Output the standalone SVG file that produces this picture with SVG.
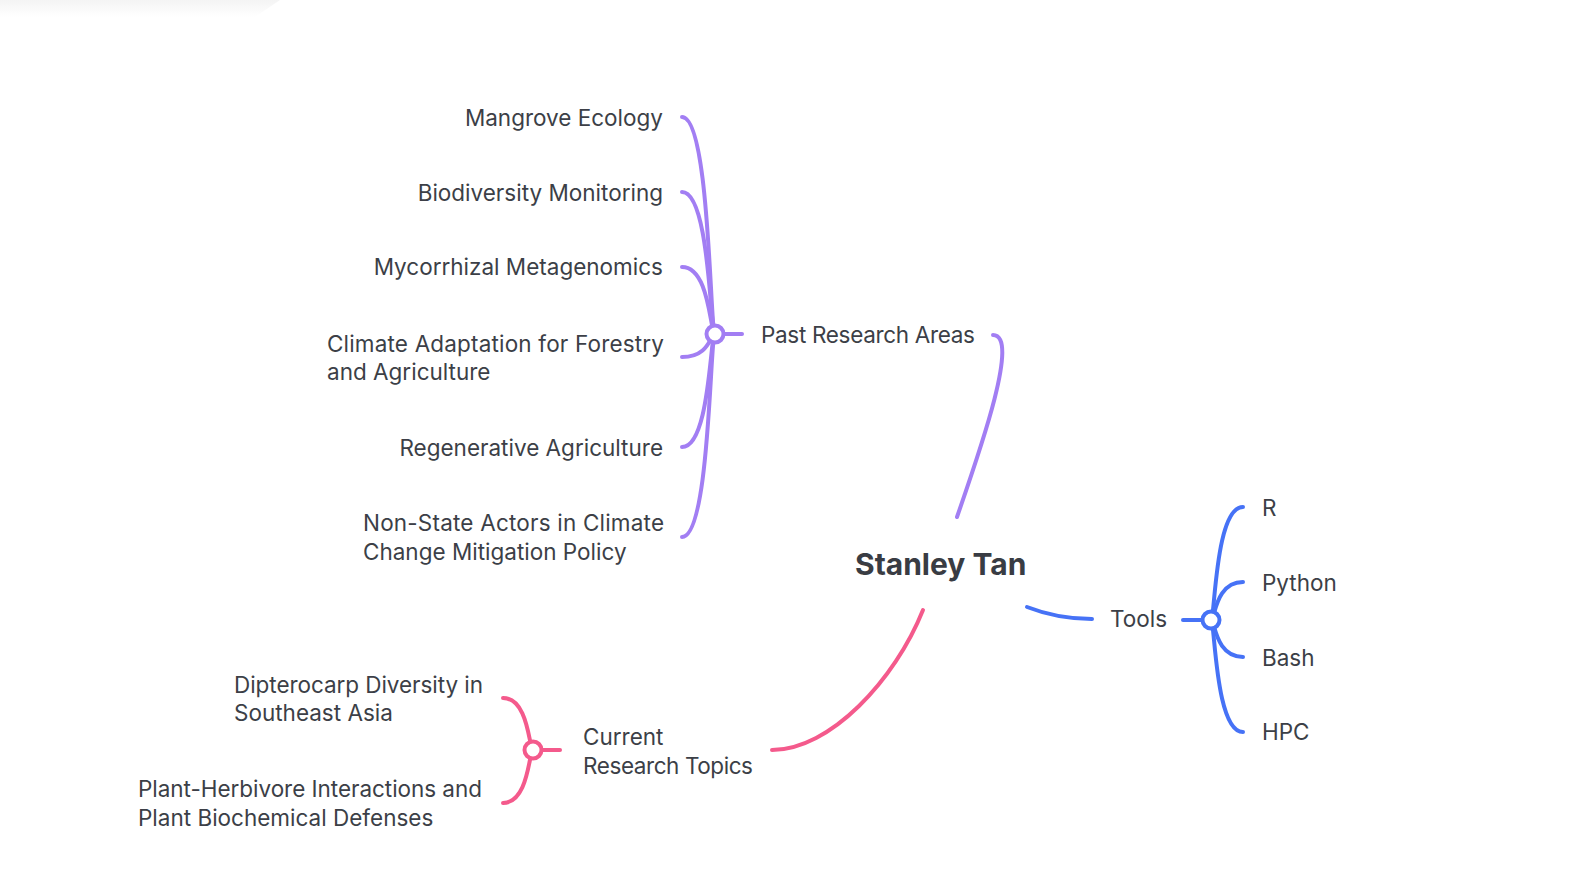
<svg xmlns="http://www.w3.org/2000/svg" width="1586" height="883" viewBox="0 0 1586 883">
<style>
.t{font-family:Inter,"Liberation Sans",sans-serif;font-size:22.5px;fill:#3c3f47}
.root{font-family:Inter,"Liberation Sans",sans-serif;font-size:30px;font-weight:700;fill:#393c43}
.c{fill:none;stroke-width:4;stroke-linecap:round}
.p{stroke:#a27ef3}
.b{stroke:#4672f6}
.k{stroke:#f45a8c}
.n{fill:#fff;stroke-width:4}
</style>
<defs>
<linearGradient id="sh" x1="0" y1="0" x2="0" y2="1">
<stop offset="0" stop-color="#f4f4f4"/>
<stop offset="1" stop-color="#ffffff"/>
</linearGradient>
</defs>
<rect width="1586" height="883" fill="#fff"/>
<path d="M0,0 L280,0 L255,17 L0,17 Z" fill="url(#sh)"/>
<g id="connectors">
<path class="c p" d="M957,517 C982,445 1020,335 993,335"/>
<path class="c b" d="M1027,607 C1050,616 1070,619 1092,619"/>
<path class="c k" d="M923,610 C895,680 830,750 772,750"/>
<path class="c p" d="M682,117 C710,117 710,334 715,334"/>
<path class="c p" d="M682,192 C710,192 710,334 715,334"/>
<path class="c p" d="M682,267 C710,267 710,334 715,334"/>
<path class="c p" d="M682,357 C710,357 710,334 715,334"/>
<path class="c p" d="M682,447 C710,447 710,334 715,334"/>
<path class="c p" d="M682,537 C710,537 710,334 715,334"/>
<path class="c p" d="M715,334 L742,334"/>
<path class="c b" d="M1243,507 C1215,507 1215,620 1211,620"/>
<path class="c b" d="M1243,582 C1215,582 1215,620 1211,620"/>
<path class="c b" d="M1243,657 C1215,657 1215,620 1211,620"/>
<path class="c b" d="M1243,732 C1215,732 1215,620 1211,620"/>
<path class="c b" d="M1183,620 L1211,620"/>
<path class="c k" d="M503,698 C529,698 529,750 533,750"/>
<path class="c k" d="M503,803 C529,803 529,750 533,750"/>
<path class="c k" d="M533,750 L560,750"/>
<circle class="n p" cx="715" cy="334" r="8.5"/>
<circle class="n b" cx="1211" cy="620" r="8.5"/>
<circle class="n k" cx="533" cy="750" r="8.5"/>
</g>
<g id="root"><text class="root" x="855" y="575">Stanley Tan</text></g>
<g id="past"><text class="t" x="761" y="343" textLength="214" lengthAdjust="spacing">Past Research Areas</text></g>
<g id="mangrove"><text class="t" x="663" y="126" text-anchor="end">Mangrove Ecology</text></g>
<g id="biodiversity"><text class="t" x="663" y="201" text-anchor="end">Biodiversity Monitoring</text></g>
<g id="mycorrhizal"><text class="t" x="663" y="275" text-anchor="end">Mycorrhizal Metagenomics</text></g>
<g id="climate"><text class="t" x="327" y="352" textLength="337" lengthAdjust="spacing">Climate Adaptation for Forestry</text><text class="t" x="327" y="380">and Agriculture</text></g>
<g id="regenerative"><text class="t" x="663" y="456" text-anchor="end">Regenerative Agriculture</text></g>
<g id="nonstate"><text class="t" x="363" y="531" textLength="301" lengthAdjust="spacing">Non-State Actors in Climate</text><text class="t" x="363" y="560">Change Mitigation Policy</text></g>
<g id="tools"><text class="t" x="1110" y="627">Tools</text></g>
<g id="r"><text class="t" x="1262" y="516">R</text></g>
<g id="python"><text class="t" x="1262" y="591">Python</text></g>
<g id="bash"><text class="t" x="1262" y="666">Bash</text></g>
<g id="hpc"><text class="t" x="1262" y="740">HPC</text></g>
<g id="current"><text class="t" x="583" y="745">Current</text><text class="t" x="583" y="774" textLength="170" lengthAdjust="spacing">Research Topics</text></g>
<g id="dipterocarp"><text class="t" x="234" y="693" textLength="249" lengthAdjust="spacing">Dipterocarp Diversity in</text><text class="t" x="234" y="721">Southeast Asia</text></g>
<g id="plant"><text class="t" x="138" y="797" textLength="344" lengthAdjust="spacing">Plant-Herbivore Interactions and</text><text class="t" x="138" y="826">Plant Biochemical Defenses</text></g>
</svg>
